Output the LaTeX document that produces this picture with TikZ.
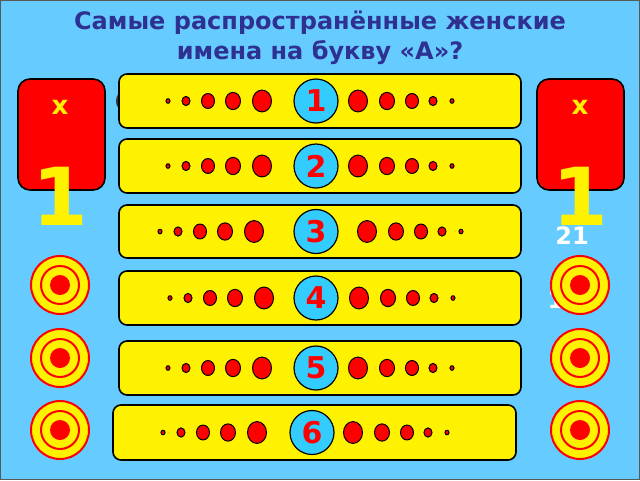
\documentclass[tikz,border=0pt]{standalone}
\usepackage{fontspec}
\setmainfont{DejaVu Sans}
\usetikzlibrary{positioning,calc}
\definecolor{skyback}{HTML}{66CCFF}
\definecolor{titleblue}{HTML}{2E3192}
\definecolor{numblue}{HTML}{33CCFF}
\tikzset{
  answerbar/.style = {draw, line width=1.6pt, rounded corners=8pt, fill=yellow},
  numdisc/.style   = {circle, draw, line width=1.2pt, fill=numblue, minimum size=44pt, inner sep=0pt,
    text=red, font=\bfseries\fontsize{30}{30}\selectfont},
  dot/.style       = {draw, line width=1pt, fill=red},
  scorebox/.style  = {draw, line width=1.6pt, rounded corners=12pt, fill=red},
  ring/.style      = {draw=red, line width=2pt, fill=yellow}
}
\begin{document}
\begin{tikzpicture}[x=1pt,y=-1pt]
\useasboundingbox (0,0) rectangle (640,480);
\fill[skyback] (0,0) rectangle (640,480);
\draw[gray!70!black, line width=1pt] (0.5,0.5) rectangle (639.5,479.5);
% title
\node[text=titleblue, font=\bfseries\fontsize{24}{30}\selectfont, align=center] (title) at (320,38)
  {Самые распространённые женские\\имена на букву «А»?};
% score boxes
\node[scorebox, minimum width=87pt, minimum height=111pt] (lbox) at (61.5,134.5) {};
\node[scorebox, minimum width=87pt, minimum height=111pt] (rbox) at (580.5,134.5) {};
\node[text=yellow, font=\bfseries\fontsize{26}{26}\selectfont] (lx) at (60,107) {x};
\node[text=yellow, font=\bfseries\fontsize{26}{26}\selectfont] (rx) at (580,107) {x};
\node[text=yellow, font=\bfseries\fontsize{80}{80}\selectfont] (lone) at (60,196) {1};
\node[text=yellow, font=\bfseries\fontsize{80}{80}\selectfont] (rone) at (580,196) {1};
\node[text=white, font=\bfseries\fontsize{24}{24}\selectfont] (rscore) at (572,236) {21};
\node[text=white, font=\bfseries\fontsize{24}{24}\selectfont] (rsmall) at (556,300) {1};
% targets
\foreach \tx in {60,580}
  \foreach \ty in {285,358,430} {
    \draw[ring] (\tx,\ty) circle (29);
    \draw[ring] (\tx,\ty) circle (19);
    \fill[red] (\tx,\ty) circle (10);
  }
% hidden shape behind first bar
\fill[black!80] (124,101) ellipse (8 and 10);
% answer bars: x1, x2, y1, y2, shift of left dots, shift of right dots, disc x
\foreach \n/\xa/\xb/\ya/\yb/\sl/\sr/\dx in {
    1/119/521/74/128/0/0/316,
    2/119/521/139/193/0/0/316,
    3/119/521/205/258/-8/9/316,
    4/119/521/271/325/2/1/316,
    5/119/521/341/395/0/0/316,
    6/113/516/405/460/-5/-5/312} {
  \draw[answerbar] (\xa,\ya) rectangle (\xb,\yb);
  \coordinate (mid\n) at (0,{(\ya+\yb)/2});
  \foreach \px/\r in {168/2,186/4,208/6.5,233/7.5,262/9.5}
    \draw[dot] ($(mid\n)+(\px+\sl,0)$) ellipse ({\r} and {\r*1.15});
  \foreach \px/\r in {358/9.5,387/7.5,412/6.5,433/4,452/2}
    \draw[dot] ($(mid\n)+(\px+\sr,0)$) ellipse ({\r} and {\r*1.15});
  \node[numdisc] (num\n) at ($(mid\n)+(\dx,0)$) {\n};
}
\end{tikzpicture}
\end{document}
